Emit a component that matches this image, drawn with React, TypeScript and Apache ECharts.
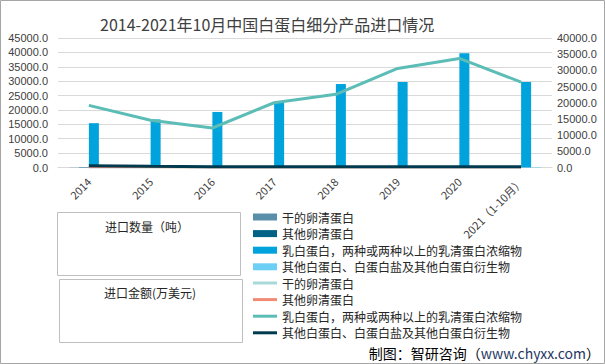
import React, { useEffect, useRef } from "react";
import * as echarts from "echarts";

const categories = ["2014", "2015", "2016", "2017", "2018", "2019", "2020", "2021（1-10月）"];

// 进口数量（吨）
const qtyDryEgg = [60, 40, 30, 30, 40, 30, 20, 20];
const qtyOtherEgg = [150, 120, 100, 90, 110, 100, 80, 70];
const qtyMilk = [15400, 16700, 19300, 22500, 29000, 29700, 39700, 29700];
const qtyOtherAlb = [300, 250, 200, 200, 220, 200, 180, 160];

// 进口金额（万美元）
const valDryEgg = [20, 15, 10, 10, 10, 10, 5, 5];
const valOtherEgg = [60, 40, 30, 20, 30, 20, 10, 10];
const valMilk = [19200, 14600, 12200, 20000, 22600, 30600, 33700, 26400];
const valOtherAlb = [550, 350, 250, 250, 220, 200, 250, 200];

const barNames = ["干的卵清蛋白", "其他卵清蛋白", "乳白蛋白，两种或两种以上的乳清蛋白浓缩物", "其他白蛋白、白蛋白盐及其他白蛋白衍生物"];
const SUFFIX = "#金额";
const lineNames = barNames.map((n) => n + SUFFIX);

const barColors = ["#5a8fa9", "#006385", "#00a3dc", "#6dcff6"];
const lineColors = ["#a8d9d8", "#f08b74", "#5bbdb6", "#003a4f"];
const lineWidths = [2, 2, 3, 3];

export default function App() {
  const ref = useRef<HTMLDivElement>(null);
  useEffect(() => {
    if (!ref.current) return;
    const chart = echarts.init(ref.current, undefined, { renderer: "svg" });
    const qty = [qtyDryEgg, qtyOtherEgg, qtyMilk, qtyOtherAlb];
    const val = [valDryEgg, valOtherEgg, valMilk, valOtherAlb];
    const fmt = (v: number) => v.toFixed(1);
    const axisLabel = { fontSize: 11, color: "#404040", fontFamily: "Liberation Sans", formatter: fmt };
    chart.setOption({
      animation: false,
      backgroundColor: "#ffffff",
      textStyle: { fontFamily: "'Noto Sans CJK SC', sans-serif" },
      title: {
        text: "2014-2021年10月中国白蛋白细分产品进口情况",
        left: 95,
        top: 11,
        textStyle: { fontSize: 16, fontWeight: "normal", color: "#404040", fontFamily: "'Noto Sans CJK SC'" },
      },
      grid: { left: 58, right: 53, top: 38, bottom: 196.5, containLabel: false },
      xAxis: {
        type: "category",
        data: categories,
        axisLine: { lineStyle: { color: "#d9d9d9" } },
        axisTick: { show: false },
        axisLabel: { rotate: 45, fontSize: 11, color: "#404040", margin: 12, interval: 0, fontFamily: "'Noto Sans CJK SC'" },
      },
      yAxis: [
        {
          type: "value",
          min: 0,
          max: 45000,
          interval: 5000,
          axisLine: { show: false },
          axisTick: { show: false },
          splitLine: { lineStyle: { color: "#d9d9d9" } },
          axisLabel: { ...axisLabel, margin: 10 },
        },
        {
          type: "value",
          min: 0,
          max: 40000,
          interval: 5000,
          axisLine: { show: false },
          axisTick: { show: false },
          splitLine: { show: false },
          axisLabel: { ...axisLabel, margin: 5 },
        },
      ],
      legend: [
        {
          orient: "vertical",
          left: 248,
          top: 205,
          itemWidth: 24,
          itemHeight: 7,
          itemGap: 2.6,
          icon: "rect",
          data: barNames,
          textStyle: { fontSize: 12, lineHeight: 14, color: "#262626" },
          selectedMode: false,
        },
        {
          orient: "vertical",
          left: 248,
          top: 271,
          itemWidth: 24,
          itemHeight: 3,
          itemGap: 2.6,
          icon: "rect",
          data: lineNames,
          formatter: (n: string) => n.replace(SUFFIX, ""),
          textStyle: { fontSize: 12, lineHeight: 14, color: "#262626" },
          selectedMode: false,
        },
      ],
      series: [
        ...barNames.map((name, i) => ({
          name,
          type: "bar",
          yAxisIndex: 0,
          data: qty[i],
          barWidth: 10,
          barGap: "0%",
          itemStyle: { color: barColors[i] },
        })),
        ...lineNames.map((name, i) => ({
          name,
          type: "line",
          yAxisIndex: 1,
          data: val[i],
          symbol: "none",
          itemStyle: { color: lineColors[i] },
          lineStyle: { color: lineColors[i], width: lineWidths[i] },
        })),
      ],
      graphic: [
        { type: "rect", shape: { x: 0.5, y: 0.5, width: 604, height: 363 }, style: { fill: "none", stroke: "#a6a6a6", lineWidth: 1 }, silent: true },
        { type: "rect", shape: { x: 57.5, y: 212.5, width: 183, height: 63 }, style: { fill: "none", stroke: "#bfbfbf", lineWidth: 1 } },
        { type: "rect", shape: { x: 59.5, y: 279.5, width: 183, height: 63 }, style: { fill: "none", stroke: "#bfbfbf", lineWidth: 1 } },
        { type: "text", x: 147, y: 226, style: { text: "进口数量（吨）", fontSize: 12, fill: "#262626", align: "center", verticalAlign: "middle", fontFamily: "'Noto Sans CJK SC'" } },
        { type: "text", x: 150, y: 292, style: { text: "进口金额(万美元)", fontSize: 12, fill: "#262626", align: "center", verticalAlign: "middle", fontFamily: "'Noto Sans CJK SC'" } },
        {
          type: "text",
          x: 600,
          y: 353,
          style: {
            text: "{a|制图：智研咨询（}{b|www.chyxx.com}{a|）}",
            align: "right",
            verticalAlign: "middle",
            rich: {
              a: { fontSize: 14, fill: "#000000", fontFamily: "'Noto Sans CJK SC'" },
              b: { fontSize: 14, fill: "#1f3864", fontFamily: "'Noto Sans CJK SC'" },
            },
          },
        },
      ],
    });
    return () => chart.dispose();
  }, []);
  return <div ref={ref} style={{ position: "fixed", left: 0, top: 0, width: 605, height: 364 }} />;
}
